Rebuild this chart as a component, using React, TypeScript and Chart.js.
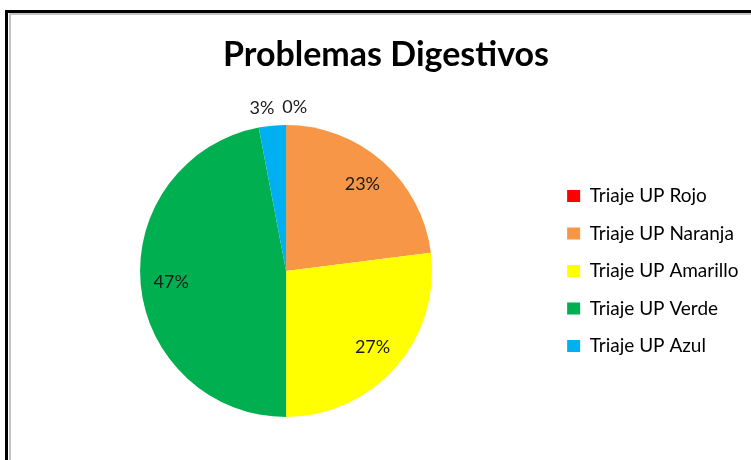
import React, { useEffect, useRef } from "react";
import { Chart, registerables } from "chart.js";

Chart.register(...registerables);

const titleText = "Problemas Digestivos";
const categories = [
  "Triaje UP Rojo",
  "Triaje UP Naranja",
  "Triaje UP Amarillo",
  "Triaje UP Verde",
  "Triaje UP Azul",
];
const shares = [0, 23, 27, 47, 3];
const sliceColors = ["#ff0000", "#f79646", "#ffff00", "#00b050", "#00b0f0"];

const FONT = "Lato, 'Open Sans', sans-serif";

// Percentage labels: inside for large slices, outside (and spread apart) for thin ones.
const percentLabels = {
  id: "percentLabels",
  afterDatasetsDraw(chart: any) {
    const meta = chart.getDatasetMeta(0);
    const data = chart.data.datasets[0].data as number[];
    const total = data.reduce((a, b) => a + b, 0);
    const ctx = chart.ctx as CanvasRenderingContext2D;
    ctx.save();
    ctx.font = `18px ${FONT}`;
    ctx.fillStyle = "#1a1a1a";
    ctx.textAlign = "center";
    ctx.textBaseline = "middle";
    const outside: { x: number; y: number; text: string; w: number }[] = [];
    meta.data.forEach((arc: any, i: number) => {
      const { x, y, startAngle, endAngle, outerRadius } = arc.getProps(
        ["x", "y", "startAngle", "endAngle", "outerRadius"],
        true
      );
      const pct = total ? (data[i] / total) * 100 : 0;
      const text = `${Math.round(pct)}%`;
      const mid = (startAngle + endAngle) / 2;
      if (pct >= 6) {
        const r = outerRadius * 0.79;
        ctx.fillText(text, x + Math.cos(mid) * r, y + Math.sin(mid) * r);
      } else {
        const r = outerRadius + 18;
        outside.push({
          x: x + Math.cos(mid) * r,
          y: y + Math.sin(mid) * r,
          text,
          w: ctx.measureText(text).width,
        });
      }
    });
    outside.sort((a, b) => a.x - b.x);
    for (let k = 1; k < outside.length; k++) {
      const a = outside[k - 1];
      const b = outside[k];
      const need = (a.w + b.w) / 2 + 8;
      if (Math.abs(a.y - b.y) < 18 && b.x - a.x < need) {
        const m = (a.x + b.x) / 2;
        a.x = m - need / 2;
        b.x = m + need / 2;
      }
    }
    outside.forEach((o) => ctx.fillText(o.text, o.x, o.y));
    ctx.restore();
  },
};

export default function App() {
  const canvasRef = useRef<HTMLCanvasElement | null>(null);

  useEffect(() => {
    document.body.style.margin = "0";
    document.body.style.overflow = "hidden";
    const chart = new Chart(canvasRef.current as HTMLCanvasElement, {
      type: "pie",
      data: {
        labels: categories,
        datasets: [
          {
            data: shares,
            backgroundColor: sliceColors,
            borderWidth: 0,
            hoverOffset: 0,
            offset: 0,
          },
        ],
      },
      options: {
        responsive: false,
        animation: false,
        events: [],
        layout: { padding: { left: 23.5, right: 2.5, top: 0, bottom: 43 } },
        plugins: {
          title: {
            display: true,
            text: titleText,
            color: "#000",
            font: { family: FONT, size: 34, weight: "bold" },
            padding: { top: 34.6, bottom: 49.6 },
          },
          legend: {
            position: "right",
            fullSize: false,
            maxWidth: 200,
            labels: {
              color: "#000",
              font: { family: FONT, size: 19 },
              boxWidth: 13,
              boxHeight: 12,
              padding: 18.5,
            },
          },
          tooltip: { enabled: false },
        },
      },
      plugins: [percentLabels],
    });
    return () => chart.destroy();
  }, []);

  return (
    <div
      style={{
        position: "fixed",
        left: 0,
        top: 0,
        width: 751,
        height: 460,
        overflow: "hidden",
        background: "#fff",
      }}
    >
      <div
        style={{
          position: "absolute",
          left: 5,
          top: 10,
          width: 820,
          height: 520,
          border: "3px solid #000",
          boxSizing: "border-box",
        }}
      >
        <div
          style={{
            position: "absolute",
            left: 1,
            top: 0,
            right: 0,
            bottom: 0,
            border: "2px solid #c4c4c4",
            borderRight: "none",
            borderBottom: "none",
          }}
        />
      </div>
      <canvas
        ref={canvasRef}
        width={751}
        height={460}
        style={{ position: "absolute", left: 0, top: 0 }}
      />
    </div>
  );
}
